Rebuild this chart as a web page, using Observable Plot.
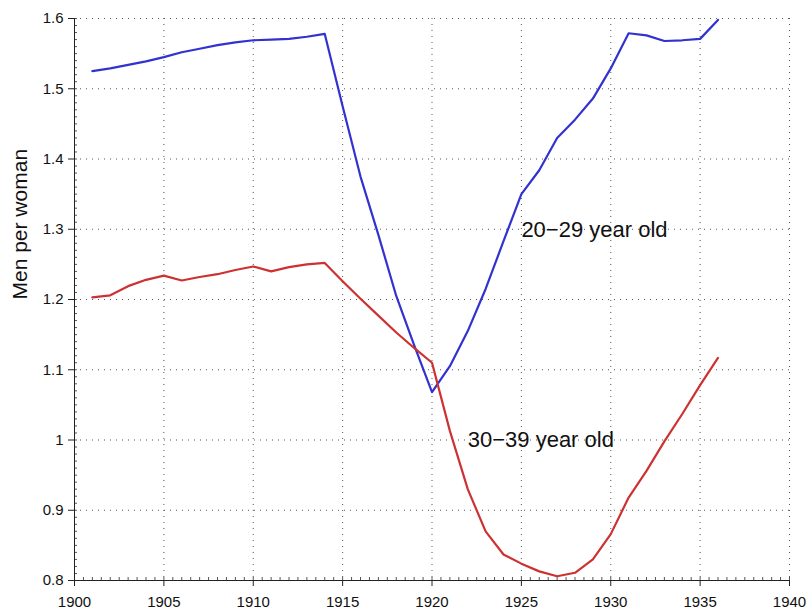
<!DOCTYPE html>
<html><head><meta charset="utf-8">
<script src="https://cdn.jsdelivr.net/npm/d3@7"></script>
<script src="https://cdn.jsdelivr.net/npm/@observablehq/plot@0.6"></script>
<style>body{margin:0;background:#fff}</style>
</head><body><div id="chart"></div>
<script>
const years = [1901,1902,1903,1904,1905,1906,1907,1908,1909,1910,1911,1912,1913,1914,1915,1916,1917,1918,
  1919,1920,1921,1922,1923,1924,1925,1926,1927,1928,1929,1930,1931,1932,1933,1934,1935,1936];
const men20_29 = [1.525,1.529,1.534,1.539,1.545,1.552,1.557,1.562,1.566,1.569,1.570,1.571,1.574,1.578,1.475,1.375,
  1.292,1.205,1.135,1.068,1.105,1.155,1.215,1.283,1.350,1.384,1.430,1.456,1.486,1.529,1.579,1.576,1.568,1.569,1.571,1.598];
const men30_39 = [1.203,1.206,1.219,1.228,1.234,1.227,1.232,1.236,1.242,1.247,1.240,1.246,1.250,1.252,1.226,1.201,
  1.177,1.153,1.131,1.110,1.013,0.930,0.870,0.837,0.824,0.813,0.806,0.811,0.830,0.866,0.918,0.956,0.998,1.037,1.078,1.117];
const xTicks = [1900,1905,1910,1915,1920,1925,1930,1935,1940];
const yTicks = [0.8,0.9,1.0,1.1,1.2,1.3,1.4,1.5,1.6];
const xMinor = d3.range(1900, 1940.01, 0.5);
const yMinor = d3.range(80, 161, 1).map(v => v / 100);
const labelText = ["20\u221229 year old", "30\u221239 year old"];
const labelYear = [1925, 1922];
const labelValue = [1.289, 0.990];
const yTitle = "Men per woman";

const seriesA = years.map((y, i) => ({year: y, value: men20_29[i]}));
const seriesB = years.map((y, i) => ({year: y, value: men30_39[i]}));
const labels = labelText.map((t, i) => ({text: t, year: labelYear[i], value: labelValue[i]}));

const chart = Plot.plot({
  width: 809,
  height: 614,
  marginLeft: 74,
  marginRight: 20,
  marginTop: 18,
  marginBottom: 34,
  style: {fontFamily: "'Liberation Sans', Arial, sans-serif", fontSize: "15px", background: "#fff", color: "#111"},
  x: {domain: [1900, 1940]},
  y: {domain: [0.8, 1.6]},
  marks: [
    Plot.gridX(xTicks, {stroke: "#444", strokeOpacity: 0.9, strokeDasharray: "1,5"}),
    Plot.gridY(yTicks, {stroke: "#444", strokeOpacity: 0.9, strokeDasharray: "1,5"}),
    Plot.axisX(xMinor, {tickSize: 3, dy: -3, tickFormat: () => "", label: null, stroke: "#555"}),
    Plot.axisY(yMinor, {tickSize: 3, dx: 3, tickFormat: () => "", label: null, stroke: "#555"}),
    Plot.axisX(xTicks, {tickSize: 6, tickPadding: 10, fontSize: 15, tickFormat: "d", label: null, stroke: "#222", fill: "#111"}),
    Plot.axisY(yTicks, {tickSize: 6, tickPadding: 5, fontSize: 15, tickFormat: d => String(+d.toFixed(2)), label: null, stroke: "#222", fill: "#111"}),
    Plot.frame({anchor: "left", stroke: "#222"}),
    Plot.frame({anchor: "bottom", stroke: "#222"}),
    Plot.line(seriesA, {x: "year", y: "value", stroke: "#3232d0", strokeWidth: 2.2}),
    Plot.line(seriesB, {x: "year", y: "value", stroke: "#cd3232", strokeWidth: 2.2}),
    Plot.text(labels, {x: "year", y: "value", text: "text", textAnchor: "start", lineAnchor: "bottom", fontSize: 22, fill: "#111"}),
    Plot.text([yTitle], {text: d => d, frameAnchor: "left", rotate: -90, dx: -54, fontSize: 21, fill: "#111"})
  ]
});
document.getElementById("chart").appendChild(chart);
</script>
</body></html>
